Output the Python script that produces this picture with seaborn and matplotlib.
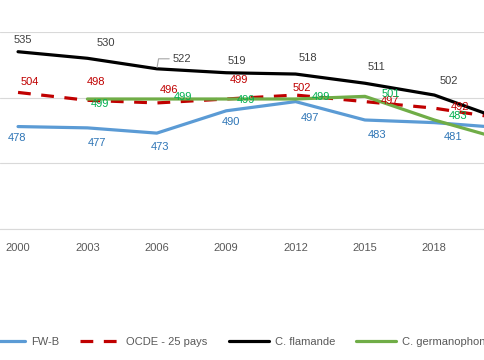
import numpy as np
import pandas as pd
import matplotlib
matplotlib.use('Agg')
import matplotlib.pyplot as plt
import seaborn as sns

# --- DATA ---
years = ['2000', '2003', '2006', '2009', '2012', '2015', '2018', '2022']
fwb = [478, 477, 473, 490, 497, 483, 481, 477]
ocde = [504, 498, 496, 499, 502, 497, 492, 484]
flamande = [535, 530, 522, 519, 518, 511, 502, 483]
germano = [np.nan, 499, 499, 499, 499, 501, 483, 468]

series_names = ['FW-B', 'OCDE - 25 pays', 'C. flamande', 'C. germanophone']

# --- STYLE ---
line_colors = ['#5B9BD5', '#C00000', '#000000', '#70AD47']
label_colors = ['#2E75B6', '#C00000', '#404040', '#00B050']

# label offsets in pixels (dx, dy), only for the years that show on the crop
offsets = {
    'FW-B': [(-1, -11), (10, -15), (3, -14), (5, -11), (14, -16), (12, -15), (19, -14)],
    'OCDE - 25 pays': [(12, 10), (9, 18), (12, 13), (13, 19), (6, 7), (25, 1), (26, 1)],
    'C. flamande': [(5, 12), (18, 15), (25, 10), (11, 12), (12, 16), (12, 16), (14, 14)],
    'C. germanophone': [None, (13, -5), (26, 2), (20, -1), (25, 2), (26, 2), (24, 4)],
}

sns.set_style('white')
plt.rcParams['font.family'] = ['Liberation Sans', 'DejaVu Sans']

fig = plt.figure(figsize=(4.85, 3.6), dpi=100)
ax = fig.add_axes([0, 0.364, 1, 0.547])

x = np.arange(len(years))
all_values = [fwb, ocde, flamande, germano]

for name, vals, col in zip(series_names, all_values, line_colors):
    sns.lineplot(x=x, y=vals, ax=ax, color=col, linewidth=2.3, label=name)
    if name == 'OCDE - 25 pays':
        ax.lines[-1].set_dashes((4, 3.3))

# data labels
for name, vals, col in zip(series_names, all_values, label_colors):
    for i, v in enumerate(vals[:7]):
        off = offsets[name][i]
        if off is None or np.isnan(v):
            continue
        kw = {}
        if name == 'C. flamande' and years[i] == '2006':
            # small leader line like the original
            kw['arrowprops'] = dict(arrowstyle='-', color='#A6A6A6', lw=0.8,
                                    shrinkA=0, shrinkB=1,
                                    connectionstyle='angle,angleA=0,angleB=80,rad=0')
        ax.annotate(f'{v:.0f}', xy=(i, v), xytext=off, textcoords='offset pixels',
                    ha='center', va='center', fontsize=8, color=col, **kw)

ax.set_xticks(x)
ax.set_xticklabels(years)
ax.set_yticks([400, 450, 500, 550])
ax.set_yticklabels([])
# limits after ticks, otherwise set_xticks widens the view again
ax.set_xlim(-0.26, 6.73)
ax.set_ylim(400, 550)
ax.tick_params(axis='x', length=0, pad=10, labelsize=8, labelcolor='#595959')
ax.tick_params(axis='y', length=0)
ax.grid(axis='y', color='#D9D9D9', linewidth=0.8)
ax.set_axisbelow(True)
for side in ['top', 'right', 'left']:
    ax.spines[side].set_visible(False)
ax.spines['bottom'].set_color('#D9D9D9')
ax.spines['bottom'].set_linewidth(0.8)

handles, labels = ax.get_legend_handles_labels()
ax.get_legend().remove()
fig.legend(handles, labels, loc='center left', bbox_to_anchor=(-0.031, 0.05),
           ncol=4, frameon=False, fontsize=8, handlelength=3.6, handletextpad=0.55,
           columnspacing=1.9, borderpad=0, borderaxespad=0, labelcolor='#595959')

fig.savefig('out.png', dpi=100)
